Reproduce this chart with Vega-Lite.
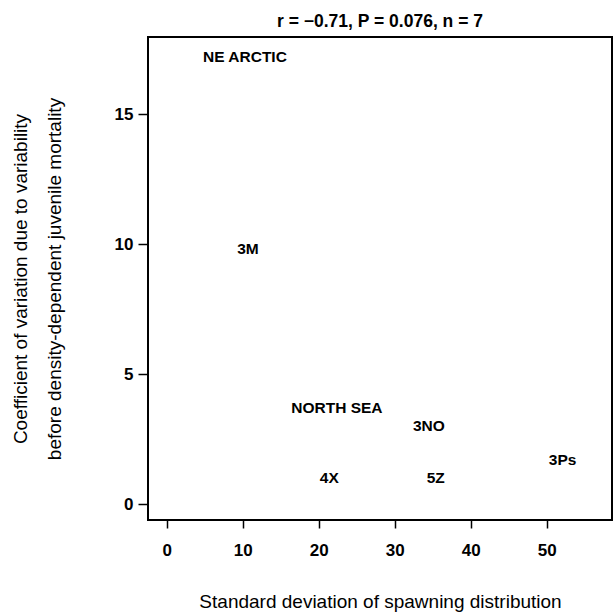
{
  "$schema": "https://vega.github.io/schema/vega-lite/v6.json",
  "autosize": {"type": "none"},
  "width": 464,
  "height": 483,
  "padding": {"left": 148, "top": 37, "right": 3, "bottom": 93},
  "background": "white",
  "config": {
    "view": {"stroke": "black", "strokeWidth": 2},
    "font": "Liberation Sans"
  },
  "title": {
    "text": "r = −0.71, P = 0.076, n = 7",
    "fontSize": 17.5,
    "font": "Liberation Sans",
    "fontWeight": "bold",
    "color": "black",
    "baseline": "alphabetic",
    "offset": 10,
    "dy": 17,
    "anchor": "middle"
  },
  "data": {
    "values": [
      {"stock": "NE ARCTIC", "sd": 10.3, "cv": 17.2},
      {"stock": "3M", "sd": 10.7, "cv": 9.8},
      {"stock": "NORTH SEA", "sd": 22.4, "cv": 3.7},
      {"stock": "3NO", "sd": 34.5, "cv": 3.0},
      {"stock": "3Ps", "sd": 52.1, "cv": 1.7},
      {"stock": "4X", "sd": 21.4, "cv": 1.0},
      {"stock": "5Z", "sd": 35.4, "cv": 1.0}
    ]
  },
  "mark": {"type": "text", "font": "Liberation Sans", "fontWeight": "bold", "fontSize": 15.5, "color": "black", "baseline": "middle", "align": "center"},
  "encoding": {
    "x": {
      "field": "sd", "type": "quantitative",
      "scale": {"domain": [-2.46, 58.6], "nice": false, "zero": false},
      "axis": {
        "title": "Standard deviation of spawning distribution",
        "values": [0, 10, 20, 30, 40, 50],
        "grid": false, "domain": false,
        "tickColor": "black", "tickSize": 8, "tickWidth": 1.5,
        "labelFont": "Liberation Sans", "labelFontSize": 17, "labelFontWeight": "bold", "labelColor": "black",
        "labelPadding": 14,
        "titleFont": "Liberation Sans", "titleFontSize": 19, "titleFontWeight": "normal", "titleColor": "black",
        "titleY": 81, "titleBaseline": "middle"
      }
    },
    "y": {
      "field": "cv", "type": "quantitative",
      "scale": {"domain": [-0.6, 17.97], "nice": false, "zero": false},
      "axis": {
        "title": ["Coefficient of variation due to variability", "before density-dependent juvenile mortality"],
        "values": [0, 5, 10, 15],
        "grid": false, "domain": false,
        "tickColor": "black", "tickSize": 10, "tickWidth": 1.5,
        "labelFont": "Liberation Sans", "labelFontSize": 17, "labelFontWeight": "bold", "labelColor": "black",
        "labelPadding": 5,
        "titleFont": "Liberation Sans", "titleFontSize": 19, "titleFontWeight": "normal", "titleColor": "black",
        "titleLineHeight": 34,
        "titleAngle": -90, "titleAlign": "center", "titleBaseline": "middle",
        "titleX": -128, "titleY": 241.5
      }
    },
    "text": {"field": "stock"}
  }
}
